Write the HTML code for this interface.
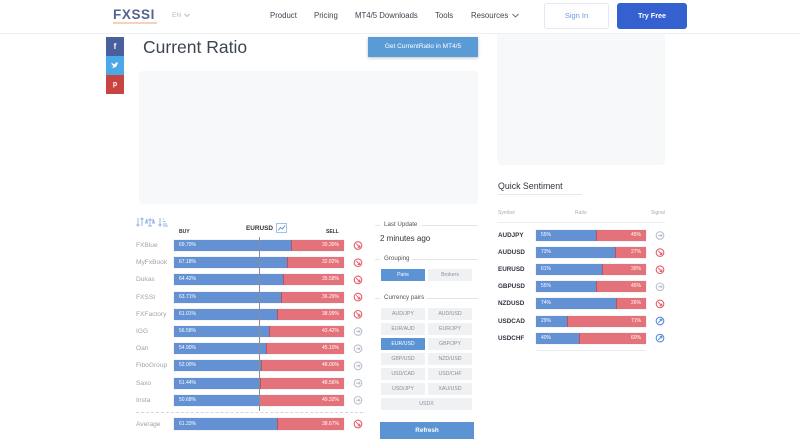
<!DOCTYPE html>
<html><head><meta charset="utf-8">
<style>
*{margin:0;padding:0;box-sizing:border-box}
body{width:800px;height:448px;overflow:hidden;background:#fff;font-family:"Liberation Sans",Arial,sans-serif;position:relative}
.a{position:absolute;white-space:nowrap}
.nav{font-size:7.8px;color:#3e4450;top:11px}
.lbl{position:absolute;left:136px;font-size:6.6px;color:#9ea3aa;line-height:11px}
.bar{position:absolute;left:174px;width:170px;height:11px;background:#e4727a;box-shadow:0 0 0 0.5px #e9e9ee}
.bar .b{position:absolute;left:0;top:0;bottom:0;background:#6391d4;border-right:1px solid #b8545e}
.bar .l,.bar .r{position:absolute;top:0;line-height:11px;font-size:5px;color:#fff}
.bar .l{left:5px}.bar .r{right:5px}
.ic{position:absolute;width:10px;height:10px}
.sec{position:absolute;font-size:6.2px;color:#555;line-height:8px}
.hl{position:absolute;height:1px;background:#e4e4e4}
.pb{position:absolute;height:12px;background:#f0f1f3;color:#8a8f96;font-size:5.2px;line-height:12px;text-align:center}
.qs{position:absolute;left:498px;font-size:6.3px;font-weight:bold;color:#2f3540;line-height:11px}
.qbar{position:absolute;left:536px;width:110px;height:11px;background:#e4727a;box-shadow:0 0 0 0.5px #e9e9ee}
.qbar .b{position:absolute;left:0;top:0;bottom:0;background:#6391d4;border-right:1px solid #b8545e}
.qbar .l,.qbar .r{position:absolute;top:0;line-height:11px;font-size:5px;color:#fff}
.qbar .l{left:5px}.qbar .r{right:5px}
</style></head><body>

<!-- header -->
<div class="a" style="left:113px;top:8px;font-size:13.5px;font-weight:bold;color:#56628f;letter-spacing:0.6px;line-height:14px">FXSSI</div>
<div class="a" style="left:113px;top:22px;width:44px;height:2px;background:#f3c7a8;opacity:.8"></div>
<div class="a" style="left:172px;top:12px;font-size:6.5px;color:#b4b8be">EN</div>
<svg class="a" style="left:184px;top:13px" width="6" height="5"><path d="M0.5 1 L3 3.5 L5.5 1" stroke="#b4b8be" fill="none" stroke-width="0.9"/></svg>
<div class="a nav" style="left:270px">Product</div>
<div class="a nav" style="left:314px">Pricing</div>
<div class="a nav" style="left:355px">MT4/5 Downloads</div>
<div class="a nav" style="left:435px">Tools</div>
<div class="a nav" style="left:471px">Resources</div>
<svg class="a" style="left:512px;top:13px" width="7" height="5"><path d="M0.5 1 L3.5 4 L6.5 1" stroke="#666" fill="none" stroke-width="0.9"/></svg>
<div class="a" style="left:544px;top:3px;width:65px;height:26px;border:1px solid #e3e8f2;border-radius:3px;font-size:7.5px;color:#6a97e6;text-align:center;line-height:24px">Sign In</div>
<div class="a" style="left:617px;top:3px;width:70px;height:26px;background:#3560d0;border-radius:3px;font-size:7.2px;font-weight:bold;color:#fff;text-align:center;line-height:26px">Try Free</div>
<div class="a" style="left:0;top:33px;width:800px;height:1px;background:#eef0f3"></div>

<!-- social -->
<div class="a" style="left:106px;top:37px;width:18px;height:19px;background:#4a5f9e;color:#fff;font-size:8px;font-weight:bold;text-align:center;line-height:19px">f</div>
<div class="a" style="left:106px;top:56px;width:18px;height:19px;background:#4aa9e6"></div>
<svg class="a" style="left:111px;top:62px" width="8" height="7"><path d="M0.5 5.5 C3 6.5 6 5 6.5 1.5 L7.5 0.8 L6.8 0.8 C5.8 -0.2 4 0.5 4.3 2.3 C2.8 2.2 1.5 1.5 0.7 0.6 C0.2 2 1 3 1.8 3.4 C3 4.5 2 5.3 0.5 5.5Z" fill="#fff"/></svg>
<div class="a" style="left:106px;top:75px;width:18px;height:19px;background:#c94340;color:#fff;font-size:7px;font-weight:bold;text-align:center;line-height:19px">p</div>

<!-- title -->
<div class="a" style="left:143px;top:37px;font-size:17.5px;color:#3d4550;line-height:21px">Current Ratio</div>
<div class="a" style="left:368px;top:37px;width:110px;height:20px;background:#5b9bd5;box-shadow:0 1px 3px rgba(0,0,0,.25);color:#fff;font-size:6.5px;text-align:center;line-height:20px">Get CurrentRatio in MT4/5</div>
<div class="a" style="left:139px;top:71px;width:339px;height:133px;background:#f7f8fa;border-radius:4px"></div>
<div class="a" style="left:497px;top:34px;width:168px;height:131px;background:#f7f8fa;border-radius:0 0 4px 4px"></div>

<!-- chart toolbar -->
<svg class="a" style="left:136px;top:217px" width="34" height="11">
<g stroke="#97b4e2" stroke-width="1" fill="none">
<path d="M2 1 V9 M0.5 7.5 L2 9 L3.5 7.5 M6 9 V1 M4.5 2.5 L6 1 L7.5 2.5"/>
<path d="M14 1 V9 M10.5 3 H17.5 M10.5 3 L9.5 6 H11.5 Z M17.5 3 L16.5 6 H18.5 Z M12 9 H16"/>
<path d="M24 1 V9 M22.5 7.5 L24 9 L25.5 7.5 M27 2 H28 M27 4.5 H29.5 M27 7 H31 M27 9 H32"/>
</g></svg>
<div class="a" style="left:246px;top:224px;font-size:6.4px;font-weight:bold;color:#333;line-height:9px">EURUSD</div>
<svg class="a" style="left:276px;top:223px" width="11" height="10"><rect x="0.5" y="0.5" width="10" height="9" fill="none" stroke="#8fb0e0" stroke-width="0.8"/><path d="M2 7.5 L4.5 4.5 L6.5 6 L9 2.5" stroke="#5b8dd8" fill="none" stroke-width="0.9"/></svg>
<div class="a" style="left:179px;top:229px;font-size:5px;font-weight:bold;color:#333">BUY</div>
<div class="a" style="left:326px;top:229px;font-size:5px;font-weight:bold;color:#333">SELL</div>

<!-- chart rows -->
<div class="lbl" style="top:240px">FXBlue</div>
<div class="bar" style="top:240px"><div class="b" style="width:69.70%"></div><span class="l">69.70%</span><span class="r">30.30%</span></div>
<div class="lbl" style="top:257.2px">MyFxBook</div>
<div class="bar" style="top:257.2px"><div class="b" style="width:67.18%"></div><span class="l">67.18%</span><span class="r">32.82%</span></div>
<div class="lbl" style="top:274.4px">Dukas</div>
<div class="bar" style="top:274.4px"><div class="b" style="width:64.42%"></div><span class="l">64.42%</span><span class="r">35.58%</span></div>
<div class="lbl" style="top:291.6px">FXSSI</div>
<div class="bar" style="top:291.6px"><div class="b" style="width:63.71%"></div><span class="l">63.71%</span><span class="r">36.29%</span></div>
<div class="lbl" style="top:308.8px">FXFactory</div>
<div class="bar" style="top:308.8px"><div class="b" style="width:61.01%"></div><span class="l">61.01%</span><span class="r">38.99%</span></div>
<div class="lbl" style="top:326px">IGG</div>
<div class="bar" style="top:326px"><div class="b" style="width:56.58%"></div><span class="l">56.58%</span><span class="r">43.42%</span></div>
<div class="lbl" style="top:343.2px">Oan</div>
<div class="bar" style="top:343.2px"><div class="b" style="width:54.90%"></div><span class="l">54.90%</span><span class="r">45.10%</span></div>
<div class="lbl" style="top:360.4px">FiboGroup</div>
<div class="bar" style="top:360.4px"><div class="b" style="width:52.00%"></div><span class="l">52.00%</span><span class="r">48.00%</span></div>
<div class="lbl" style="top:377.6px">Saxo</div>
<div class="bar" style="top:377.6px"><div class="b" style="width:51.44%"></div><span class="l">51.44%</span><span class="r">48.56%</span></div>
<div class="lbl" style="top:394.8px">Insta</div>
<div class="bar" style="top:394.8px"><div class="b" style="width:50.68%"></div><span class="l">50.68%</span><span class="r">49.32%</span></div>
<div class="a" style="left:259px;top:237px;width:1px;height:174px;background:#8a8d92"></div>
<div class="a" style="left:136px;top:412px;width:227px;height:0;border-top:1px dashed #d4d6da"></div>
<div class="lbl" style="top:418.5px">Average</div>
<div class="bar" style="top:418px;height:12px"><div class="b" style="width:61.33%"></div><span class="l" style="line-height:12px">61.33%</span><span class="r" style="line-height:12px">38.67%</span></div>

<!-- chart signals -->
<svg class="a" style="left:0;top:0" width="800" height="448">
<defs>
<g id="sr"><circle r="3.8" fill="none" stroke="#e4606c" stroke-width="1.1"/><path d="M-1.8 -1.8 L1.6 1.6 M1.8 -0.4 V1.8 H-0.4" stroke="#e4606c" fill="none" stroke-width="1"/></g>
<g id="sg"><circle r="3.8" fill="none" stroke="#b9c1cd" stroke-width="1.1"/><path d="M-2 0 H2 M0.6 -1.4 L2 0 L0.6 1.4" stroke="#b9c1cd" fill="none" stroke-width="1"/></g>
<g id="sb"><circle r="3.8" fill="none" stroke="#5b8dd8" stroke-width="1.1"/><path d="M-1.8 1.8 L1.6 -1.6 M-0.4 -1.8 H1.8 V0.4" stroke="#5b8dd8" fill="none" stroke-width="1"/></g>
</defs>
<use href="#sr" x="358" y="245.5"/>
<use href="#sr" x="358" y="262.7"/>
<use href="#sr" x="358" y="279.9"/>
<use href="#sr" x="358" y="297.1"/>
<use href="#sr" x="358" y="314.3"/>
<use href="#sg" x="358" y="331.5"/>
<use href="#sg" x="358" y="348.7"/>
<use href="#sg" x="358" y="365.9"/>
<use href="#sg" x="358" y="383.1"/>
<use href="#sg" x="358" y="400.3"/>
<use href="#sr" x="358" y="424"/>
<use href="#sg" x="660" y="235.5"/>
<use href="#sr" x="660" y="252.6"/>
<use href="#sr" x="660" y="269.7"/>
<use href="#sg" x="660" y="286.8"/>
<use href="#sr" x="660" y="303.9"/>
<use href="#sb" x="660" y="321"/>
<use href="#sb" x="660" y="338.1"/>
</svg>

<!-- middle panel -->
<div class="hl" style="left:375px;top:225px;width:5px"></div>
<div class="sec" style="left:384px;top:221px">Last Update</div>
<div class="hl" style="left:422px;top:225px;width:56px"></div>
<div class="a" style="left:380px;top:234px;font-size:8px;color:#333;line-height:10px">2 minutes ago</div>
<div class="hl" style="left:375px;top:259px;width:5px"></div>
<div class="sec" style="left:384px;top:255px">Grouping</div>
<div class="hl" style="left:412px;top:259px;width:66px"></div>
<div class="pb" style="left:381px;top:269px;width:44px;background:#5b93d3;color:#fff">Pairs</div>
<div class="pb" style="left:428px;top:269px;width:44px">Brokers</div>
<div class="hl" style="left:375px;top:298px;width:5px"></div>
<div class="sec" style="left:384px;top:294px">Currency pairs</div>
<div class="hl" style="left:427px;top:298px;width:51px"></div>
<div class="pb" style="left:381px;top:308px;width:44px">AUD/JPY</div>
<div class="pb" style="left:428px;top:308px;width:44px">AUD/USD</div>
<div class="pb" style="left:381px;top:323px;width:44px">EUR/AUD</div>
<div class="pb" style="left:428px;top:323px;width:44px">EUR/JPY</div>
<div class="pb" style="left:381px;top:338px;width:44px;background:#5b93d3;color:#fff">EUR/USD</div>
<div class="pb" style="left:428px;top:338px;width:44px">GBP/JPY</div>
<div class="pb" style="left:381px;top:353px;width:44px">GBP/USD</div>
<div class="pb" style="left:428px;top:353px;width:44px">NZD/USD</div>
<div class="pb" style="left:381px;top:368px;width:44px">USD/CAD</div>
<div class="pb" style="left:428px;top:368px;width:44px">USD/CHF</div>
<div class="pb" style="left:381px;top:383px;width:44px">USD/JPY</div>
<div class="pb" style="left:428px;top:383px;width:44px">XAU/USD</div>
<div class="pb" style="left:381px;top:398px;width:91px">USDX</div>
<div class="a" style="left:380px;top:422px;width:94px;height:17px;background:#5b93d3;color:#fff;font-size:6.3px;font-weight:bold;text-align:center;line-height:17px">Refresh</div>

<!-- quick sentiment -->
<div class="a" style="left:498px;top:181px;font-size:8.8px;color:#2f3540;line-height:11px">Quick Sentiment</div>
<div class="a" style="left:498px;top:194px;width:84px;height:1px;background:#e6e8eb"></div>
<div class="a" style="left:498px;top:210px;font-size:5px;color:#a9adb3">Symbol</div>
<div class="a" style="left:575px;top:210px;font-size:5px;color:#a9adb3">Ratio</div>
<div class="a" style="left:651px;top:210px;font-size:5px;color:#a9adb3">Signal</div>
<div class="a" style="left:497px;top:222px;width:168px;height:1px;background:#eceef1"></div>

<div class="qs" style="top:230px">AUDJPY</div>
<div class="qbar" style="top:230px"><div class="b" style="width:55%"></div><span class="l">55%</span><span class="r">45%</span></div>
<div class="qs" style="top:247.1px">AUDUSD</div>
<div class="qbar" style="top:247.1px"><div class="b" style="width:73%"></div><span class="l">73%</span><span class="r">27%</span></div>
<div class="qs" style="top:264.2px">EURUSD</div>
<div class="qbar" style="top:264.2px"><div class="b" style="width:61%"></div><span class="l">61%</span><span class="r">39%</span></div>
<div class="qs" style="top:281.3px">GBPUSD</div>
<div class="qbar" style="top:281.3px"><div class="b" style="width:55%"></div><span class="l">55%</span><span class="r">45%</span></div>
<div class="qs" style="top:298.4px">NZDUSD</div>
<div class="qbar" style="top:298.4px"><div class="b" style="width:74%"></div><span class="l">74%</span><span class="r">26%</span></div>
<div class="qs" style="top:315.5px">USDCAD</div>
<div class="qbar" style="top:315.5px"><div class="b" style="width:29%"></div><span class="l">29%</span><span class="r">71%</span></div>
<div class="qs" style="top:332.6px">USDCHF</div>
<div class="qbar" style="top:332.6px"><div class="b" style="width:40%"></div><span class="l">40%</span><span class="r">60%</span></div>
<div class="a" style="left:536px;top:350px;width:110px;height:1px;background:#e9ecf0"></div>

</body></html>
